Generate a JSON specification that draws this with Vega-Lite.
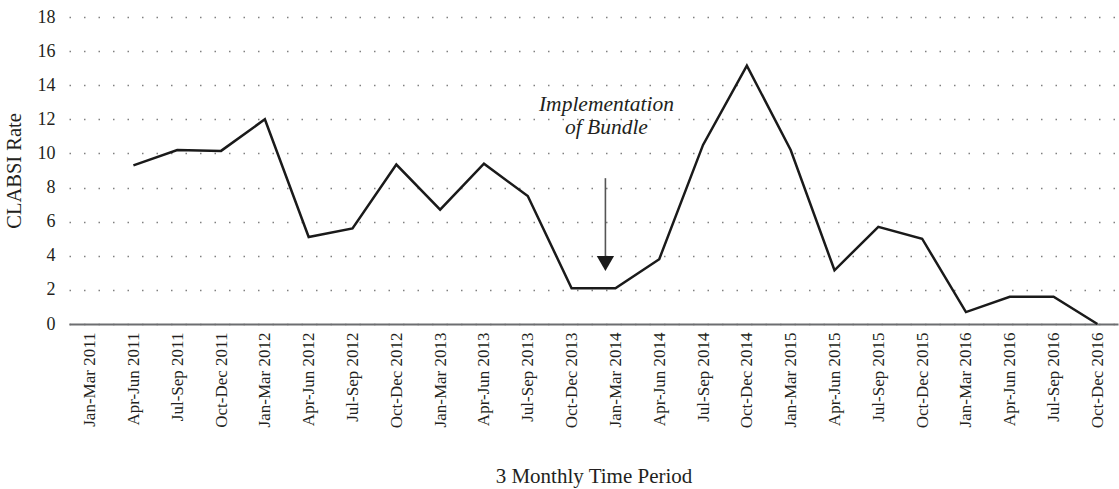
{
  "$schema": "https://vega.github.io/schema/vega-lite/v6.json",
  "width": 1119,
  "height": 489,
  "autosize": {"type": "fit", "contains": "padding"},
  "padding": {"left": 4, "top": 8, "right": 1, "bottom": 2},
  "background": "white",
  "config": {
    "font": "Liberation Serif",
    "view": {"stroke": null}
  },
  "datasets": {
    "rates": [
      {"period": "Jan-Mar 2011", "rate": null},
      {"period": "Apr-Jun 2011", "rate": 9.3},
      {"period": "Jul-Sep 2011", "rate": 10.2},
      {"period": "Oct-Dec 2011", "rate": 10.15},
      {"period": "Jan-Mar 2012", "rate": 12.0},
      {"period": "Apr-Jun 2012", "rate": 5.1},
      {"period": "Jul-Sep 2012", "rate": 5.6},
      {"period": "Oct-Dec 2012", "rate": 9.35},
      {"period": "Jan-Mar 2013", "rate": 6.7},
      {"period": "Apr-Jun 2013", "rate": 9.4},
      {"period": "Jul-Sep 2013", "rate": 7.5},
      {"period": "Oct-Dec 2013", "rate": 2.1},
      {"period": "Jan-Mar 2014", "rate": 2.1},
      {"period": "Apr-Jun 2014", "rate": 3.8},
      {"period": "Jul-Sep 2014", "rate": 10.5},
      {"period": "Oct-Dec 2014", "rate": 15.15},
      {"period": "Jan-Mar 2015", "rate": 10.2},
      {"period": "Apr-Jun 2015", "rate": 3.15},
      {"period": "Jul-Sep 2015", "rate": 5.7},
      {"period": "Oct-Dec 2015", "rate": 5.0},
      {"period": "Jan-Mar 2016", "rate": 0.7},
      {"period": "Apr-Jun 2016", "rate": 1.6},
      {"period": "Jul-Sep 2016", "rate": 1.6},
      {"period": "Oct-Dec 2016", "rate": 0.0}
    ],
    "note": [
      {"period": "Jan-Mar 2014", "rate": 8.55, "bottom": 3.8, "tip": 3.55, "l1": 12.85, "l2": 11.5, "t1": "Implementation", "t2": "of Bundle"}
    ]
  },
  "encoding": {
    "x": {
      "field": "period", "type": "ordinal",
      "scale": {"type": "point", "padding": 0.47, "domain": ["Jan-Mar 2011","Apr-Jun 2011","Jul-Sep 2011","Oct-Dec 2011","Jan-Mar 2012","Apr-Jun 2012","Jul-Sep 2012","Oct-Dec 2012","Jan-Mar 2013","Apr-Jun 2013","Jul-Sep 2013","Oct-Dec 2013","Jan-Mar 2014","Apr-Jun 2014","Jul-Sep 2014","Oct-Dec 2014","Jan-Mar 2015","Apr-Jun 2015","Jul-Sep 2015","Oct-Dec 2015","Jan-Mar 2016","Apr-Jun 2016","Jul-Sep 2016","Oct-Dec 2016"]},
      "sort": null,
      "axis": {
        "title": "3 Monthly Time Period",
        "titleFont": "Liberation Serif", "titleFontSize": 21, "titleFontWeight": "normal", "titleColor": "#231f20", "titlePadding": 38,
        "labelAngle": -90, "labelFontSize": 17, "labelColor": "#231f20", "labelPadding": 8, "labelOverlap": false,
        "ticks": false, "domainColor": "#6d6e71", "domainWidth": 2, "grid": false
      }
    }
  },
  "layer": [
    {
      "data": {"name": "rates"},
      "mark": {"type": "line", "color": "#1a1a1a", "strokeWidth": 2.5, "strokeJoin": "miter"},
      "encoding": {
        "y": {
          "field": "rate", "type": "quantitative",
          "scale": {"domain": [0, 18], "nice": false},
          "axis": {
            "title": "CLABSI Rate", "values": [0, 2, 4, 6, 8, 10, 12, 14, 16, 18], "tickCount": 10, "labelOverlap": false,
            "titleFont": "Liberation Serif", "titleFontSize": 20.5, "titleFontWeight": "normal", "titleColor": "#231f20", "titlePadding": 13,
            "labelFontSize": 18, "labelColor": "#231f20", "labelPadding": 14,
            "ticks": false, "domain": false,
            "grid": true, "gridColor": "#808080", "gridDash": [1.5, 13], "gridWidth": 1.3
          }
        }
      }
    },
    {
      "data": {"name": "note"},
      "mark": {"type": "rule", "color": "#555555", "strokeWidth": 1.6, "xOffset": -10},
      "encoding": {
        "y": {"field": "rate", "type": "quantitative"},
        "y2": {"field": "bottom"}
      }
    },
    {
      "data": {"name": "note"},
      "mark": {"type": "point", "shape": "triangle-down", "filled": true, "color": "#1a1a1a", "size": 300, "opacity": 1, "xOffset": -10},
      "encoding": {
        "y": {"field": "tip", "type": "quantitative", "title": "CLABSI Rate"}
      }
    },
    {
      "data": {"name": "note"},
      "mark": {"type": "text", "font": "Liberation Serif", "fontStyle": "italic", "fontSize": 21.5, "color": "#231f20", "align": "center", "baseline": "middle", "xOffset": -9},
      "encoding": {
        "y": {"field": "l1", "type": "quantitative", "title": "CLABSI Rate"},
        "text": {"field": "t1"}
      }
    },
    {
      "data": {"name": "note"},
      "mark": {"type": "text", "font": "Liberation Serif", "fontStyle": "italic", "fontSize": 21.5, "color": "#231f20", "align": "center", "baseline": "middle", "xOffset": -9},
      "encoding": {
        "y": {"field": "l2", "type": "quantitative", "title": "CLABSI Rate"},
        "text": {"field": "t2"}
      }
    }
  ]
}
